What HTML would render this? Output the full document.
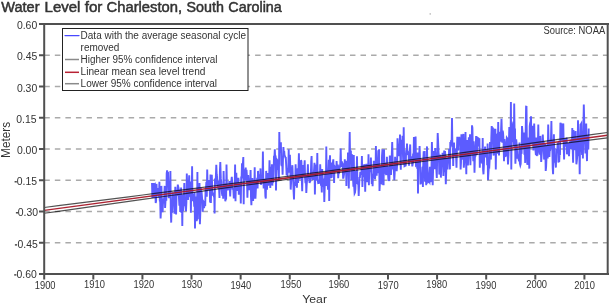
<!DOCTYPE html><html><head><meta charset="utf-8"><style>html,body{margin:0;padding:0;background:#fff;width:610px;height:305px;overflow:hidden}svg{display:block;will-change:transform}text{font-family:"Liberation Sans",sans-serif}</style></head><body>
<svg width="610" height="305" viewBox="0 0 610 305">
<rect width="610" height="305" fill="#fff"/>
<line x1="44.3" y1="55.25" x2="607" y2="55.25" stroke="#aaaaaa" stroke-width="1.6" stroke-dasharray="5.5 5.04"/>
<line x1="44.3" y1="86.50" x2="607" y2="86.50" stroke="#aaaaaa" stroke-width="1.6" stroke-dasharray="5.5 5.04"/>
<line x1="44.3" y1="117.75" x2="607" y2="117.75" stroke="#aaaaaa" stroke-width="1.6" stroke-dasharray="5.5 5.04"/>
<line x1="44.3" y1="149.00" x2="607" y2="149.00" stroke="#aaaaaa" stroke-width="1.6" stroke-dasharray="5.5 5.04"/>
<line x1="44.3" y1="180.25" x2="607" y2="180.25" stroke="#aaaaaa" stroke-width="1.6" stroke-dasharray="5.5 5.04"/>
<line x1="44.3" y1="211.50" x2="607" y2="211.50" stroke="#aaaaaa" stroke-width="1.6" stroke-dasharray="5.5 5.04"/>
<line x1="44.3" y1="242.75" x2="607" y2="242.75" stroke="#aaaaaa" stroke-width="1.6" stroke-dasharray="5.5 5.04"/>
<polyline fill="none" stroke="#5c5cff" stroke-width="1.9" stroke-linejoin="miter" points="152.0,183.0 152.4,198.0 152.8,189.4 153.2,183.0 153.6,198.0 154.0,189.6 154.5,184.2 154.9,183.9 155.3,187.3 155.7,203.0 156.1,200.9 156.5,183.9 156.9,194.6 157.3,191.7 157.7,188.0 158.1,190.4 158.5,197.5 159.0,196.2 159.4,181.8 159.8,201.0 160.2,201.5 160.6,218.5 161.0,210.2 161.4,185.9 161.8,199.5 162.2,202.9 162.6,212.3 163.0,202.9 163.5,198.7 163.9,203.3 164.3,195.1 164.7,185.9 165.1,207.9 165.5,200.9 165.9,197.8 166.3,200.7 166.7,173.3 167.1,170.3 167.6,182.7 168.0,171.8 168.4,186.6 168.8,198.1 169.2,191.7 169.6,182.2 170.0,190.0 170.4,171.1 170.8,211.3 171.2,222.6 171.6,206.4 172.1,212.6 172.5,202.6 172.9,192.3 173.3,200.7 173.7,204.0 174.1,199.5 174.5,213.6 174.9,199.1 175.3,186.7 175.7,197.5 176.1,214.4 176.6,190.2 177.0,195.6 177.4,191.3 177.8,184.6 178.2,186.9 178.6,188.2 179.0,198.6 179.4,205.8 179.8,189.8 180.2,212.0 180.6,199.7 181.1,187.5 181.5,213.1 181.9,199.0 182.3,225.9 182.7,194.6 183.1,211.0 183.5,204.7 183.9,198.2 184.3,183.1 184.7,204.4 185.1,205.2 185.6,204.7 186.0,211.1 186.4,202.1 186.8,173.6 187.2,185.5 187.6,183.0 188.0,200.1 188.4,184.3 188.8,184.6 189.2,175.2 189.7,191.9 190.1,197.1 190.5,182.6 190.9,212.8 191.3,181.6 191.7,200.2 192.1,166.2 192.5,201.3 192.9,194.0 193.3,198.5 193.7,194.6 194.2,206.7 194.6,192.1 195.0,228.4 195.4,196.4 195.8,203.6 196.2,202.4 196.6,220.9 197.0,219.4 197.4,172.0 197.8,219.3 198.2,191.5 198.7,190.9 199.1,202.5 199.5,183.0 199.9,224.3 200.3,213.5 200.7,187.5 201.1,192.9 201.5,191.2 201.9,195.8 202.3,201.2 202.7,211.8 203.2,201.2 203.6,201.9 204.0,207.9 204.4,206.3 204.8,203.3 205.2,206.1 205.6,189.4 206.0,187.7 206.4,181.7 206.8,196.7 207.2,169.5 207.7,189.3 208.1,185.1 208.5,190.3 208.9,184.1 209.3,180.0 209.7,188.1 210.1,202.5 210.5,174.4 210.9,203.0 211.3,180.1 211.8,174.9 212.2,186.9 212.6,195.5 213.0,192.7 213.4,194.4 213.8,193.4 214.2,193.3 214.6,213.6 215.0,178.6 215.4,184.8 215.8,178.2 216.3,164.9 216.7,174.2 217.1,176.9 217.5,188.4 217.9,181.7 218.3,180.6 218.7,187.8 219.1,188.9 219.5,198.0 219.9,171.3 220.3,162.1 220.8,178.4 221.2,181.6 221.6,188.6 222.0,193.7 222.4,195.8 222.8,190.8 223.2,198.7 223.6,171.1 224.0,186.4 224.4,191.2 224.8,183.5 225.3,201.3 225.7,198.7 226.1,199.6 226.5,164.6 226.9,184.8 227.3,185.9 227.7,190.4 228.1,185.0 228.5,188.5 228.9,188.6 229.3,181.0 229.8,188.6 230.2,196.4 230.6,186.5 231.0,181.9 231.4,180.5 231.8,176.8 232.2,182.0 232.6,189.8 233.0,188.1 233.4,190.2 233.8,198.5 234.3,192.5 234.7,189.0 235.1,164.6 235.5,201.3 235.9,184.1 236.3,172.8 236.7,183.8 237.1,184.6 237.5,190.8 237.9,187.7 238.4,177.7 238.8,194.8 239.2,183.2 239.6,183.4 240.0,184.7 240.4,184.1 240.8,203.5 241.2,176.5 241.6,178.3 242.0,163.3 242.4,170.2 242.9,163.6 243.3,157.0 243.7,204.3 244.1,169.3 244.5,178.3 244.9,180.1 245.3,174.0 245.7,167.6 246.1,180.5 246.5,169.8 246.9,175.5 247.4,197.8 247.8,182.3 248.2,175.1 248.6,184.7 249.0,190.2 249.4,179.7 249.8,178.5 250.2,182.4 250.6,170.1 251.0,197.7 251.4,205.2 251.9,181.9 252.3,178.0 252.7,181.7 253.1,200.9 253.5,190.4 253.9,187.7 254.3,189.1 254.7,167.3 255.1,197.8 255.5,197.8 255.9,188.9 256.4,186.0 256.8,187.1 257.2,177.7 257.6,188.4 258.0,170.9 258.4,181.6 258.8,176.2 259.2,174.4 259.6,178.4 260.0,181.2 260.5,168.4 260.9,184.7 261.3,182.8 261.7,178.3 262.1,181.2 262.5,181.0 262.9,151.6 263.3,180.6 263.7,188.5 264.1,184.2 264.5,178.7 265.0,185.3 265.4,196.4 265.8,198.6 266.2,170.9 266.6,183.2 267.0,189.7 267.4,173.0 267.8,178.5 268.2,185.7 268.6,175.5 269.0,185.2 269.5,160.2 269.9,174.7 270.3,188.0 270.7,166.8 271.1,168.7 271.5,183.1 271.9,164.3 272.3,185.6 272.7,179.0 273.1,182.6 273.5,177.3 274.0,155.8 274.4,158.1 274.8,149.3 275.2,158.9 275.6,155.6 276.0,190.4 276.4,167.0 276.8,159.4 277.2,160.0 277.6,169.9 278.0,162.4 278.5,170.4 278.9,179.9 279.3,131.9 279.7,150.1 280.1,142.6 280.5,152.6 280.9,142.2 281.3,164.4 281.7,166.1 282.1,159.6 282.6,174.8 283.0,158.2 283.4,147.1 283.8,152.9 284.2,151.0 284.6,155.9 285.0,156.1 285.4,157.7 285.8,157.8 286.2,165.2 286.6,174.4 287.1,174.3 287.5,174.8 287.9,169.3 288.3,169.3 288.7,149.3 289.1,172.8 289.5,165.5 289.9,154.7 290.3,167.0 290.7,189.6 291.1,182.5 291.6,175.4 292.0,169.6 292.4,165.2 292.8,176.0 293.2,180.3 293.6,191.8 294.0,199.4 294.4,183.3 294.8,182.1 295.2,186.0 295.6,164.3 296.1,180.2 296.5,180.8 296.9,187.6 297.3,178.2 297.7,168.2 298.1,183.0 298.5,168.2 298.9,153.2 299.3,171.3 299.7,179.5 300.1,171.3 300.6,172.1 301.0,160.2 301.4,161.1 301.8,179.6 302.2,191.2 302.6,170.0 303.0,165.0 303.4,175.1 303.8,176.9 304.2,168.2 304.7,160.2 305.1,178.8 305.5,183.1 305.9,175.5 306.3,192.9 306.7,184.8 307.1,179.4 307.5,174.6 307.9,164.3 308.3,178.9 308.7,174.5 309.2,178.8 309.6,183.0 310.0,181.6 310.4,181.2 310.8,176.0 311.2,161.3 311.6,156.1 312.0,177.0 312.4,176.7 312.8,179.9 313.2,174.6 313.7,173.4 314.1,169.3 314.5,162.7 314.9,194.5 315.3,174.6 315.7,164.6 316.1,167.9 316.5,180.5 316.9,178.3 317.3,152.9 317.7,179.1 318.2,183.1 318.6,183.0 319.0,180.6 319.4,183.4 319.8,182.1 320.2,164.3 320.6,175.6 321.0,185.6 321.4,182.6 321.8,192.5 322.2,169.1 322.7,179.2 323.1,187.0 323.5,178.5 323.9,182.4 324.3,201.9 324.7,188.2 325.1,175.1 325.5,173.4 325.9,186.1 326.3,146.6 326.7,184.9 327.2,180.4 327.6,180.1 328.0,189.7 328.4,170.6 328.8,159.7 329.2,201.1 329.6,163.0 330.0,155.3 330.4,172.2 330.8,178.3 331.3,167.5 331.7,177.9 332.1,162.4 332.5,172.7 332.9,162.5 333.3,159.4 333.7,170.8 334.1,183.0 334.5,166.1 334.9,166.7 335.3,171.3 335.8,170.8 336.2,170.6 336.6,161.1 337.0,168.9 337.4,166.5 337.8,164.6 338.2,178.1 338.6,172.3 339.0,172.5 339.4,165.6 339.8,168.0 340.3,163.5 340.7,148.5 341.1,164.4 341.5,166.8 341.9,161.5 342.3,162.8 342.7,163.8 343.1,177.9 343.5,177.9 343.9,175.2 344.3,172.4 344.8,159.2 345.2,167.0 345.6,168.9 346.0,163.4 346.4,186.1 346.8,160.8 347.2,164.4 347.6,168.6 348.0,152.6 348.4,170.9 348.8,188.5 349.3,154.2 349.7,132.1 350.1,157.3 350.5,159.5 350.9,150.5 351.3,180.3 351.7,161.6 352.1,154.3 352.5,173.9 352.9,175.2 353.4,186.6 353.8,155.1 354.2,186.9 354.6,193.4 355.0,192.6 355.4,189.0 355.8,170.9 356.2,180.7 356.6,178.4 357.0,156.2 357.4,183.4 357.9,183.9 358.3,182.4 358.7,195.9 359.1,185.2 359.5,177.0 359.9,177.9 360.3,171.9 360.7,173.7 361.1,172.9 361.5,174.3 361.9,155.9 362.4,186.9 362.8,173.7 363.2,171.5 363.6,177.1 364.0,165.7 364.4,164.3 364.8,168.8 365.2,191.8 365.6,173.9 366.0,169.1 366.4,163.9 366.9,172.0 367.3,182.2 367.7,178.0 368.1,174.9 368.5,154.3 368.9,185.2 369.3,166.3 369.7,167.0 370.1,171.2 370.5,171.1 370.9,157.5 371.4,175.1 371.8,183.9 372.2,174.7 372.6,186.1 373.0,173.8 373.4,177.3 373.8,160.7 374.2,178.1 374.6,168.6 375.0,179.3 375.5,173.5 375.9,146.1 376.3,165.9 376.7,175.6 377.1,163.7 377.5,163.1 377.9,162.1 378.3,150.4 378.7,173.3 379.1,149.3 379.5,191.0 380.0,181.6 380.4,166.1 380.8,167.0 381.2,183.0 381.6,183.3 382.0,156.0 382.4,150.3 382.8,150.3 383.2,165.7 383.6,185.2 384.0,149.3 384.5,170.6 384.9,162.9 385.3,167.7 385.7,173.7 386.1,174.3 386.5,174.1 386.9,156.7 387.3,171.2 387.7,166.5 388.1,175.1 388.5,180.9 389.0,170.5 389.4,181.1 389.8,155.5 390.2,162.7 390.6,171.0 391.0,175.0 391.4,161.5 391.8,154.7 392.2,142.0 392.6,157.1 393.0,169.5 393.5,165.6 393.9,171.1 394.3,180.3 394.7,173.2 395.1,156.7 395.5,161.9 395.9,162.2 396.3,159.6 396.7,171.3 397.1,165.2 397.5,138.2 398.0,149.9 398.4,146.3 398.8,147.5 399.2,156.1 399.6,147.6 400.0,134.6 400.4,157.2 400.8,169.7 401.2,139.8 401.6,147.2 402.1,154.1 402.5,135.7 402.9,152.9 403.3,164.7 403.7,127.2 404.1,157.1 404.5,166.2 404.9,166.0 405.3,152.8 405.7,166.4 406.1,152.4 406.6,153.0 407.0,143.6 407.4,153.1 407.8,150.9 408.2,153.9 408.6,153.8 409.0,165.6 409.4,155.2 409.8,151.4 410.2,144.4 410.6,162.2 411.1,156.2 411.5,162.3 411.9,159.0 412.3,166.4 412.7,164.0 413.1,153.6 413.5,162.7 413.9,137.0 414.3,160.5 414.7,147.9 415.1,145.8 415.6,136.6 416.0,165.3 416.4,164.9 416.8,160.3 417.2,168.7 417.6,152.6 418.0,193.4 418.4,157.7 418.8,154.6 419.2,154.8 419.6,146.1 420.1,162.3 420.5,184.4 420.9,178.6 421.3,180.7 421.7,183.7 422.1,174.7 422.5,166.9 422.9,186.9 423.3,159.8 423.7,151.2 424.2,154.7 424.6,151.0 425.0,180.8 425.4,181.2 425.8,166.2 426.2,185.2 426.6,161.2 427.0,146.4 427.4,166.2 427.8,172.4 428.2,182.1 428.7,181.7 429.1,181.3 429.5,182.0 429.9,166.9 430.3,176.6 430.7,182.3 431.1,168.0 431.5,166.1 431.9,142.0 432.3,156.6 432.7,185.2 433.2,165.8 433.6,160.1 434.0,151.0 434.4,161.5 434.8,169.2 435.2,148.0 435.6,167.4 436.0,152.6 436.4,170.5 436.8,177.9 437.2,156.9 437.7,133.0 438.1,141.3 438.5,151.6 438.9,156.3 439.3,174.6 439.7,171.2 440.1,154.7 440.5,158.8 440.9,177.6 441.3,164.2 441.7,165.2 442.2,157.8 442.6,152.7 443.0,161.5 443.4,176.0 443.8,164.6 444.2,150.6 444.6,172.2 445.0,151.1 445.4,155.9 445.8,184.2 446.3,169.6 446.7,168.4 447.1,158.0 447.5,169.5 447.9,157.6 448.3,161.3 448.7,161.7 449.1,149.0 449.5,159.5 449.9,169.4 450.3,141.9 450.8,144.0 451.2,140.1 451.6,145.8 452.0,118.0 452.4,147.3 452.8,144.1 453.2,166.1 453.6,148.4 454.0,142.5 454.4,154.3 454.8,156.4 455.3,154.3 455.7,148.5 456.1,156.4 456.5,167.8 456.9,150.2 457.3,136.8 457.7,148.9 458.1,150.4 458.5,139.9 458.9,142.9 459.3,136.8 459.8,142.4 460.2,143.6 460.6,169.4 461.0,162.8 461.4,134.3 461.8,159.7 462.2,154.5 462.6,150.6 463.0,144.1 463.4,133.9 463.8,167.8 464.3,160.8 464.7,159.9 465.1,151.0 465.5,131.9 465.9,155.8 466.3,174.3 466.7,141.1 467.1,140.0 467.5,145.6 467.9,165.4 468.4,156.9 468.8,137.3 469.2,144.7 469.6,145.7 470.0,134.3 470.4,165.3 470.8,150.7 471.2,151.7 471.6,154.6 472.0,125.3 472.4,127.8 472.9,151.9 473.3,161.3 473.7,141.4 474.1,149.3 474.5,172.7 474.9,157.0 475.3,156.6 475.7,150.7 476.1,136.0 476.5,154.9 476.9,153.6 477.4,139.9 477.8,138.0 478.2,138.3 478.6,138.6 479.0,146.5 479.4,138.3 479.8,167.8 480.2,152.3 480.6,153.9 481.0,162.7 481.4,153.1 481.9,161.2 482.3,163.5 482.7,138.0 483.1,170.2 483.5,174.3 483.9,165.0 484.3,153.8 484.7,150.3 485.1,146.6 485.5,157.4 485.9,151.3 486.4,156.9 486.8,150.0 487.2,165.1 487.6,143.4 488.0,180.1 488.4,173.8 488.8,166.7 489.2,168.7 489.6,160.8 490.0,142.0 490.4,153.8 490.9,159.6 491.3,137.7 491.7,126.1 492.1,128.0 492.5,136.5 492.9,133.6 493.3,152.9 493.7,155.6 494.1,130.2 494.5,130.9 495.0,135.1 495.4,128.7 495.8,169.4 496.2,141.1 496.6,136.0 497.0,135.2 497.4,143.3 497.8,153.8 498.2,122.0 498.6,147.3 499.0,155.5 499.5,137.2 499.9,141.2 500.3,131.8 500.7,141.6 501.1,129.2 501.5,118.8 501.9,133.9 502.3,142.7 502.7,130.6 503.1,133.3 503.5,140.4 504.0,161.2 504.4,139.2 504.8,144.1 505.2,144.2 505.6,155.9 506.0,155.7 506.4,144.4 506.8,137.8 507.2,138.4 507.6,153.9 508.0,164.5 508.5,155.2 508.9,143.8 509.3,127.1 509.7,141.8 510.1,140.5 510.5,147.3 510.9,101.9 511.3,169.4 511.7,124.4 512.1,142.3 512.5,129.8 513.0,123.9 513.4,121.6 513.8,146.5 514.2,103.5 514.6,131.5 515.0,128.5 515.4,163.7 515.8,153.3 516.2,139.3 516.6,143.6 517.1,151.9 517.5,158.6 517.9,154.7 518.3,157.9 518.7,159.4 519.1,161.3 519.5,142.5 519.9,163.7 520.3,165.3 520.7,163.8 521.1,147.1 521.6,153.9 522.0,126.1 522.4,130.7 522.8,144.0 523.2,140.0 523.6,148.0 524.0,132.6 524.4,154.7 524.8,147.8 525.2,162.9 525.6,135.8 526.1,106.7 526.5,106.8 526.9,145.0 527.3,164.7 527.7,163.9 528.1,137.5 528.5,150.0 528.9,154.4 529.3,168.6 529.7,126.3 530.1,123.3 530.6,121.5 531.0,116.2 531.4,144.1 531.8,132.1 532.2,125.9 532.6,136.5 533.0,130.9 533.4,150.6 533.8,134.2 534.2,123.6 534.6,140.5 535.1,142.9 535.5,150.8 535.9,154.9 536.3,137.5 536.7,156.1 537.1,151.8 537.5,155.4 537.9,143.5 538.3,124.4 538.7,146.8 539.2,147.3 539.6,152.9 540.0,154.4 540.4,135.9 540.8,147.3 541.2,161.9 541.6,155.7 542.0,150.8 542.4,149.0 542.8,134.6 543.2,144.1 543.7,141.5 544.1,159.6 544.5,155.6 544.9,157.6 545.3,144.1 545.7,170.9 546.1,167.2 546.5,157.2 546.9,156.0 547.3,144.8 547.7,158.4 548.2,124.4 548.6,142.1 549.0,151.3 549.4,157.0 549.8,148.7 550.2,149.1 550.6,140.5 551.0,137.8 551.4,121.1 551.8,148.6 552.2,140.5 552.7,167.9 553.1,174.2 553.5,150.7 553.9,134.3 554.3,156.7 554.7,162.7 555.1,159.7 555.5,162.4 555.9,167.6 556.3,149.9 556.7,150.2 557.2,153.0 557.6,144.1 558.0,143.4 558.4,162.6 558.8,150.5 559.2,161.9 559.6,153.6 560.0,155.0 560.4,122.8 560.8,123.8 561.2,124.0 561.7,140.7 562.1,134.1 562.5,130.1 562.9,124.4 563.3,123.6 563.7,146.6 564.1,159.4 564.5,141.6 564.9,143.3 565.3,138.6 565.8,142.1 566.2,146.7 566.6,137.5 567.0,154.3 567.4,150.2 567.8,145.8 568.2,147.6 568.6,143.1 569.0,156.1 569.4,147.6 569.8,144.1 570.3,145.3 570.7,149.2 571.1,139.7 571.5,146.9 571.9,149.1 572.3,128.0 572.7,149.0 573.1,162.7 573.5,130.0 573.9,136.2 574.3,135.4 574.8,148.5 575.2,150.0 575.6,131.0 576.0,146.0 576.4,164.3 576.8,161.2 577.2,156.6 577.6,155.1 578.0,120.3 578.4,145.2 578.8,153.1 579.3,149.1 579.7,174.2 580.1,137.0 580.5,124.6 580.9,124.3 581.3,123.6 581.7,148.6 582.1,154.9 582.5,134.1 582.9,158.6 583.3,133.9 583.8,104.4 584.2,120.4 584.6,141.3 585.0,141.4 585.4,153.4 585.8,149.7 586.2,123.6 586.6,150.4 587.0,161.1 587.4,139.0 587.9,135.6 588.3,149.6 588.7,128.5"/>
<polyline fill="none" points="44.2,207.48 58.3,205.70 72.4,203.92 86.4,202.14 100.5,200.36 114.6,198.58 128.7,196.79 142.8,195.00 156.9,193.21 170.9,191.42 185.0,189.62 199.1,187.82 213.2,186.01 227.3,184.20 241.4,182.39 255.4,180.56 269.5,178.73 283.6,176.89 297.7,175.05 311.8,173.19 325.8,171.33 339.9,169.45 354.0,167.57 368.1,165.67 382.2,163.77 396.3,161.85 410.3,159.93 424.4,158.00 438.5,156.07 452.6,154.12 466.7,152.17 480.8,150.22 494.8,148.26 508.9,146.30 523.0,144.33 537.1,142.36 551.2,140.39 565.3,138.42 579.3,136.44 593.4,134.46 607.5,132.48" stroke="#000" stroke-width="1.2" stroke-opacity="0.68"/>
<polyline fill="none" points="44.2,213.28 58.3,211.30 72.4,209.32 86.4,207.34 100.5,205.36 114.6,203.38 128.7,201.41 142.8,199.44 156.9,197.47 170.9,195.50 185.0,193.54 199.1,191.58 213.2,189.63 227.3,187.68 241.4,185.73 255.4,183.80 269.5,181.87 283.6,179.95 297.7,178.03 311.8,176.13 325.8,174.23 339.9,172.35 354.0,170.47 368.1,168.61 382.2,166.75 396.3,164.91 410.3,163.07 424.4,161.24 438.5,159.41 452.6,157.60 466.7,155.79 480.8,153.98 494.8,152.18 508.9,150.38 523.0,148.59 537.1,146.80 551.2,145.01 565.3,143.22 579.3,141.44 593.4,139.66 607.5,137.88" stroke="#000" stroke-width="1.2" stroke-opacity="0.68"/>
<line x1="44.2" y1="210.38" x2="607.5" y2="135.18" stroke="#a81828" stroke-width="1.5" stroke-opacity="0.95"/>
<path d="M44.2 23 V274 M39 24 H609 M39 274 H609 M607.7 23 V275" stroke="#505050" stroke-width="2" fill="none"/>
<line x1="39" y1="24.00" x2="44" y2="24.00" stroke="#505050" stroke-width="2"/>
<line x1="39" y1="55.25" x2="44" y2="55.25" stroke="#505050" stroke-width="2"/>
<line x1="39" y1="86.50" x2="44" y2="86.50" stroke="#505050" stroke-width="2"/>
<line x1="39" y1="117.75" x2="44" y2="117.75" stroke="#505050" stroke-width="2"/>
<line x1="39" y1="149.00" x2="44" y2="149.00" stroke="#505050" stroke-width="2"/>
<line x1="39" y1="180.25" x2="44" y2="180.25" stroke="#505050" stroke-width="2"/>
<line x1="39" y1="211.50" x2="44" y2="211.50" stroke="#505050" stroke-width="2"/>
<line x1="39" y1="242.75" x2="44" y2="242.75" stroke="#505050" stroke-width="2"/>
<line x1="39" y1="274.00" x2="44" y2="274.00" stroke="#505050" stroke-width="2"/>
<text x="16.90" y="28.80" font-size="10.4" fill="#333" textLength="20.3" lengthAdjust="spacingAndGlyphs">0.60</text>
<text x="17.00" y="59.90" font-size="10.4" fill="#333" textLength="20.3" lengthAdjust="spacingAndGlyphs">0.45</text>
<text x="16.90" y="91.90" font-size="10.4" fill="#333" textLength="20.3" lengthAdjust="spacingAndGlyphs">0.30</text>
<text x="16.20" y="122.90" font-size="10.4" fill="#333" textLength="20.3" lengthAdjust="spacingAndGlyphs">0.15</text>
<text x="16.90" y="153.90" font-size="10.4" fill="#333" textLength="20.3" lengthAdjust="spacingAndGlyphs">0.00</text>
<text x="16.80" y="184.80" font-size="10.4" fill="#333" textLength="20.3" lengthAdjust="spacingAndGlyphs">0.15</text>
<rect x="14.6" y="181.15" width="2.2" height="1.3" fill="#333"/>
<text x="17.80" y="215.80" font-size="10.4" fill="#333" textLength="20.3" lengthAdjust="spacingAndGlyphs">0.30</text>
<rect x="15.9" y="212.15" width="2.2" height="1.3" fill="#333"/>
<text x="17.50" y="247.90" font-size="10.4" fill="#333" textLength="20.3" lengthAdjust="spacingAndGlyphs">0.45</text>
<rect x="14.9" y="244.25" width="2.2" height="1.3" fill="#333"/>
<text x="16.50" y="277.90" font-size="10.4" fill="#333" textLength="20.3" lengthAdjust="spacingAndGlyphs">0.60</text>
<rect x="14.2" y="274.25" width="2.2" height="1.3" fill="#333"/>
<line x1="44.20" y1="274" x2="44.20" y2="279.5" stroke="#505050" stroke-width="2"/>
<text x="45.15" y="288.70" font-size="10.4" fill="#333" text-anchor="middle" textLength="20.8" lengthAdjust="spacingAndGlyphs">1900</text>
<line x1="93.31" y1="274" x2="93.31" y2="279.5" stroke="#505050" stroke-width="2"/>
<text x="94.50" y="288.00" font-size="10.4" fill="#333" text-anchor="middle" textLength="20.8" lengthAdjust="spacingAndGlyphs">1910</text>
<line x1="142.42" y1="274" x2="142.42" y2="279.5" stroke="#505050" stroke-width="2"/>
<text x="143.85" y="288.00" font-size="10.4" fill="#333" text-anchor="middle" textLength="20.8" lengthAdjust="spacingAndGlyphs">1920</text>
<line x1="191.53" y1="274" x2="191.53" y2="279.5" stroke="#505050" stroke-width="2"/>
<text x="191.85" y="288.00" font-size="10.4" fill="#333" text-anchor="middle" textLength="20.8" lengthAdjust="spacingAndGlyphs">1930</text>
<line x1="240.64" y1="274" x2="240.64" y2="279.5" stroke="#505050" stroke-width="2"/>
<text x="240.80" y="289.10" font-size="10.4" fill="#333" text-anchor="middle" textLength="20.8" lengthAdjust="spacingAndGlyphs">1940</text>
<line x1="289.75" y1="274" x2="289.75" y2="279.5" stroke="#505050" stroke-width="2"/>
<text x="291.00" y="288.00" font-size="10.4" fill="#333" text-anchor="middle" textLength="20.8" lengthAdjust="spacingAndGlyphs">1950</text>
<line x1="338.86" y1="274" x2="338.86" y2="279.5" stroke="#505050" stroke-width="2"/>
<text x="338.90" y="288.00" font-size="10.4" fill="#333" text-anchor="middle" textLength="20.8" lengthAdjust="spacingAndGlyphs">1960</text>
<line x1="387.97" y1="274" x2="387.97" y2="279.5" stroke="#505050" stroke-width="2"/>
<text x="388.25" y="289.10" font-size="10.4" fill="#333" text-anchor="middle" textLength="20.8" lengthAdjust="spacingAndGlyphs">1970</text>
<line x1="437.08" y1="274" x2="437.08" y2="279.5" stroke="#505050" stroke-width="2"/>
<text x="436.75" y="288.00" font-size="10.4" fill="#333" text-anchor="middle" textLength="20.8" lengthAdjust="spacingAndGlyphs">1980</text>
<line x1="486.19" y1="274" x2="486.19" y2="279.5" stroke="#505050" stroke-width="2"/>
<text x="486.00" y="289.10" font-size="10.4" fill="#333" text-anchor="middle" textLength="20.8" lengthAdjust="spacingAndGlyphs">1990</text>
<line x1="535.30" y1="274" x2="535.30" y2="279.5" stroke="#505050" stroke-width="2"/>
<text x="536.65" y="288.00" font-size="10.4" fill="#333" text-anchor="middle" textLength="20.8" lengthAdjust="spacingAndGlyphs">2000</text>
<line x1="584.41" y1="274" x2="584.41" y2="279.5" stroke="#505050" stroke-width="2"/>
<text x="584.60" y="289.10" font-size="10.4" fill="#333" text-anchor="middle" textLength="20.8" lengthAdjust="spacingAndGlyphs">2010</text>
<text x="302.26" y="303.0" font-size="11.8" fill="#333" textLength="24.78" lengthAdjust="spacingAndGlyphs">Year</text>
<text transform="translate(9.9 0) rotate(-90)" x="-157.9" y="0" font-size="11.9" fill="#333" textLength="36.1" lengthAdjust="spacingAndGlyphs">Meters</text>
<text x="1.2" y="11.6" font-size="14.7" fill="#333" stroke="#333" stroke-width="0.5" textLength="38.34" lengthAdjust="spacingAndGlyphs">Water</text>
<text x="44.58" y="11.6" font-size="14.7" fill="#333" stroke="#333" stroke-width="0.5" textLength="35.87" lengthAdjust="spacingAndGlyphs">Level</text>
<text x="84.7" y="11.6" font-size="14.7" fill="#333" stroke="#333" stroke-width="0.5" textLength="17.75" lengthAdjust="spacingAndGlyphs">for</text>
<text x="106.59" y="11.6" font-size="14.7" fill="#333" stroke="#333" stroke-width="0.5" textLength="75.52" lengthAdjust="spacingAndGlyphs">Charleston,</text>
<text x="186.53" y="11.6" font-size="14.7" fill="#333" stroke="#333" stroke-width="0.5" textLength="37.35" lengthAdjust="spacingAndGlyphs">South</text>
<text x="228.32" y="11.6" font-size="14.7" fill="#333" stroke="#333" stroke-width="0.5" textLength="53.49" lengthAdjust="spacingAndGlyphs">Carolina</text>
<text x="543.5" y="33.7" font-size="10" fill="#333" textLength="61.7" lengthAdjust="spacingAndGlyphs">Source: NOAA</text>
<rect x="62.5" y="28.5" width="185.5" height="62.0" fill="#fff" stroke="#222" stroke-width="1"/>
<line x1="65" y1="35.6" x2="79" y2="35.6" stroke="#4848ff" stroke-width="1.4" stroke-linecap="round"/>
<line x1="65" y1="59.5" x2="79" y2="59.5" stroke="#8a8a8a" stroke-width="1.5"/>
<line x1="65" y1="72.3" x2="79" y2="72.3" stroke="#b82234" stroke-width="1.5"/>
<line x1="65" y1="83.7" x2="79" y2="83.7" stroke="#8a8a8a" stroke-width="1.5"/>
<text x="80.6" y="38.9" font-size="10" fill="#333" textLength="165.5" lengthAdjust="spacingAndGlyphs">Data with the average seasonal cycle</text>
<text x="80.6" y="50.7" font-size="10" fill="#333" textLength="38.8" lengthAdjust="spacingAndGlyphs">removed</text>
<text x="80.6" y="62.5" font-size="10" fill="#333" textLength="136.9" lengthAdjust="spacingAndGlyphs">Higher 95% confidence interval</text>
<text x="80.6" y="74.5" font-size="10" fill="#333" textLength="124.8" lengthAdjust="spacingAndGlyphs">Linear mean sea level trend</text>
<text x="80.6" y="86.9" font-size="10" fill="#333" textLength="136.4" lengthAdjust="spacingAndGlyphs">Lower 95% confidence interval</text>
<rect x="429.5" y="13.4" width="1.5" height="1.1" fill="#aaa"/>
</svg></body></html>
